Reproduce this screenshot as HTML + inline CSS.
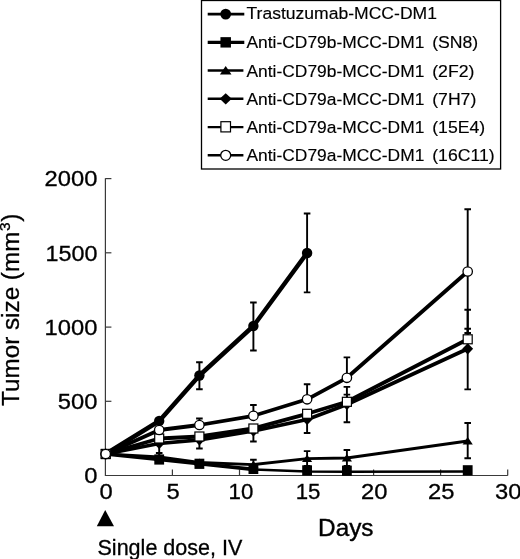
<!DOCTYPE html><html><head><meta charset="utf-8"><title>Tumor size</title>
<style>html,body{margin:0;padding:0;background:#fff;}svg{display:block;}text{font-family:"Liberation Sans", Arial, Helvetica, sans-serif;fill:#000;stroke:#000;stroke-width:0.3px;}</style></head><body>
<svg width="520" height="559" viewBox="0 0 520 559">
<rect width="520" height="559" fill="#fff"/>
<g stroke="#3a3a3a" stroke-width="1.2" fill="none">
<path d="M105.4 178.3 V475.5 H507.8"/>
<path d="M105.4 401.3 h6"/>
<path d="M105.4 327.1 h6"/>
<path d="M105.4 252.8 h6"/>
<path d="M105.4 178.6 h6"/>
<path d="M172.4 475.5 v-6"/>
<path d="M239.5 475.5 v-6"/>
<path d="M306.6 475.5 v-6"/>
<path d="M373.6 475.5 v-6"/>
<path d="M440.6 475.5 v-6"/>
<path d="M507.7 475.5 v-6"/>
</g>
<text transform="translate(97.4 483.2) scale(1.100 1)" font-size="21.6" text-anchor="end">0</text>
<text transform="translate(97.4 409.0) scale(1.100 1)" font-size="21.6" text-anchor="end">500</text>
<text transform="translate(97.4 334.8) scale(1.100 1)" font-size="21.6" text-anchor="end">1000</text>
<text transform="translate(97.4 260.5) scale(1.080 1)" font-size="21.6" text-anchor="end">1500</text>
<text transform="translate(97.4 186.3) scale(1.100 1)" font-size="21.6" text-anchor="end">2000</text>
<text transform="translate(106.0 499.3) scale(1.100 1)" font-size="21.6" text-anchor="middle">0</text>
<text transform="translate(173.0 499.3) scale(1.100 1)" font-size="21.6" text-anchor="middle">5</text>
<text transform="translate(240.9 499.3) scale(1.030 1)" font-size="21.6" text-anchor="middle">10</text>
<text transform="translate(308.0 499.3) scale(1.030 1)" font-size="21.6" text-anchor="middle">15</text>
<text transform="translate(374.2 499.3) scale(1.100 1)" font-size="21.6" text-anchor="middle">20</text>
<text transform="translate(441.2 499.3) scale(1.100 1)" font-size="21.6" text-anchor="middle">25</text>
<text transform="translate(508.3 499.3) scale(1.100 1)" font-size="21.6" text-anchor="middle">30</text>
<text transform="translate(18.8 405.9) rotate(-90)" font-size="24.25" text-anchor="start">Tumor size (mm<tspan font-size="15.5" dy="-9" dx="0.6">3</tspan><tspan dy="9" dx="0.8">)</tspan></text>
<text transform="translate(345.8 536.2) scale(1.035 1)" font-size="23.5" text-anchor="middle" style="stroke-width:0.4px">Days</text>
<text transform="translate(97.5 554.7) scale(1.012 1)" font-size="21.3" text-anchor="start">Single dose, IV</text>
<path d="M105.2 510 L114 526.2 L96.8 526.2 Z" fill="#000"/>
<path d="M253.4 459.8 V467.0 M250.1 459.8 h6.6 M250.1 467.0 h6.6" stroke="#000" stroke-width="1.9" fill="none"/>
<path d="M307.1 451.1 V466.0 M303.8 451.1 h6.6 M303.8 466.0 h6.6" stroke="#000" stroke-width="1.9" fill="none"/>
<path d="M346.9 450.0 V466.0 M343.6 450.0 h6.6 M343.6 466.0 h6.6" stroke="#000" stroke-width="1.9" fill="none"/>
<path d="M467.7 423.0 V458.3 M464.4 423.0 h6.6 M464.4 458.3 h6.6" stroke="#000" stroke-width="1.9" fill="none"/>
<path d="M159.2 443.0 V453.0 M155.9 443.0 h6.6 M155.9 453.0 h6.6" stroke="#000" stroke-width="1.9" fill="none"/>
<path d="M199.4 440.0 V448.5 M196.1 440.0 h6.6 M196.1 448.5 h6.6" stroke="#000" stroke-width="1.9" fill="none"/>
<path d="M307.1 419.0 V433.0 M303.8 419.0 h6.6 M303.8 433.0 h6.6" stroke="#000" stroke-width="1.9" fill="none"/>
<path d="M346.9 386.9 V422.3 M343.6 386.9 h6.6 M343.6 422.3 h6.6" stroke="#000" stroke-width="1.9" fill="none"/>
<path d="M467.7 309.7 V389.4 M464.4 309.7 h6.6 M464.4 389.4 h6.6" stroke="#000" stroke-width="1.9" fill="none"/>
<path d="M253.4 428.0 V441.5 M250.1 428.0 h6.6 M250.1 441.5 h6.6" stroke="#000" stroke-width="1.9" fill="none"/>
<path d="M346.9 394.6 V401.0 M343.6 394.6 h6.6 M343.6 401.0 h6.6" stroke="#000" stroke-width="1.9" fill="none"/>
<path d="M467.7 328.8 V339.5 M464.4 328.8 h6.6 M464.4 339.5 h6.6" stroke="#000" stroke-width="1.9" fill="none"/>
<path d="M199.4 418.5 V425.0 M196.1 418.5 h6.6 M196.1 425.0 h6.6" stroke="#000" stroke-width="1.9" fill="none"/>
<path d="M253.4 405.0 V415.0 M250.1 405.0 h6.6 M250.1 415.0 h6.6" stroke="#000" stroke-width="1.9" fill="none"/>
<path d="M307.1 384.2 V399.0 M303.8 384.2 h6.6 M303.8 399.0 h6.6" stroke="#000" stroke-width="1.9" fill="none"/>
<path d="M346.9 357.4 V377.0 M343.6 357.4 h6.6 M343.6 377.0 h6.6" stroke="#000" stroke-width="1.9" fill="none"/>
<path d="M467.7 209.3 V333.0 M464.4 209.3 h6.6 M464.4 333.0 h6.6" stroke="#000" stroke-width="1.9" fill="none"/>
<path d="M199.4 362.3 V389.3 M196.1 362.3 h6.6 M196.1 389.3 h6.6" stroke="#000" stroke-width="1.9" fill="none"/>
<path d="M253.4 302.5 V350.5 M250.1 302.5 h6.6 M250.1 350.5 h6.6" stroke="#000" stroke-width="1.9" fill="none"/>
<path d="M307.1 213.5 V292.4 M303.8 213.5 h6.6 M303.8 292.4 h6.6" stroke="#000" stroke-width="1.9" fill="none"/>
<polyline fill="none" stroke="#000" stroke-width="4.5" stroke-linejoin="round" points="105.7,454.0 159.2,421.0 199.4,375.5 253.4,326.0 307.1,253.0"/>
<polyline fill="none" stroke="#000" stroke-width="3.6" stroke-linejoin="round" points="105.7,454.0 159.2,459.5 199.4,463.8 253.4,469.4"/>
<polyline fill="none" stroke="#000" stroke-width="2.5" stroke-linejoin="round" points="253.4,469.4 307.1,471.5 346.9,471.8 467.7,471.4"/>
<polyline fill="none" stroke="#000" stroke-width="2.8" stroke-linejoin="round" points="105.7,454.0 159.2,457.0 199.4,462.5 253.4,464.6 307.1,458.6 346.9,458.0 467.7,441.0"/>
<polyline fill="none" stroke="#000" stroke-width="3.7" stroke-linejoin="round" points="105.7,454.0 159.2,443.5 199.4,439.8 253.4,431.0 307.1,419.5 346.9,404.5 467.7,348.8"/>
<polyline fill="none" stroke="#000" stroke-width="3.8" stroke-linejoin="round" points="105.7,454.0 159.2,438.5 199.4,436.5 253.4,428.5 307.1,413.8 346.9,401.8 467.7,339.3"/>
<polyline fill="none" stroke="#000" stroke-width="3.8" stroke-linejoin="round" points="105.7,454.0 159.2,430.0 199.4,425.0 253.4,415.8 307.1,399.3 346.9,377.8 467.7,271.5"/>
<circle cx="105.7" cy="454.0" r="5.2" fill="#000"/>
<circle cx="159.2" cy="421.0" r="5.2" fill="#000"/>
<circle cx="199.4" cy="375.5" r="5.2" fill="#000"/>
<circle cx="253.4" cy="326.0" r="5.2" fill="#000"/>
<circle cx="307.1" cy="253.0" r="5.2" fill="#000"/>
<rect x="100.80" y="448.90" width="9.8" height="10.2" fill="#000"/>
<rect x="154.30" y="454.40" width="9.8" height="10.2" fill="#000"/>
<rect x="194.50" y="458.70" width="9.8" height="10.2" fill="#000"/>
<rect x="248.50" y="463.80" width="9.8" height="10.2" fill="#000"/>
<rect x="302.20" y="465.30" width="9.8" height="10.2" fill="#000"/>
<rect x="342.00" y="465.60" width="9.8" height="10.2" fill="#000"/>
<rect x="462.80" y="465.20" width="9.8" height="10.2" fill="#000"/>
<path d="M105.7 450.1 l5.1 7.4 h-10.2 z" fill="#000"/>
<path d="M159.2 453.1 l5.1 7.4 h-10.2 z" fill="#000"/>
<path d="M199.4 458.6 l5.1 7.4 h-10.2 z" fill="#000"/>
<path d="M253.4 460.7 l5.1 7.4 h-10.2 z" fill="#000"/>
<path d="M307.1 454.7 l5.1 7.4 h-10.2 z" fill="#000"/>
<path d="M346.9 454.1 l5.1 7.4 h-10.2 z" fill="#000"/>
<path d="M467.7 437.1 l5.1 7.4 h-10.2 z" fill="#000"/>
<path d="M105.7 448.4 l5.4 5.6 l-5.4 5.6 l-5.4 -5.6 z" fill="#000"/>
<path d="M159.2 437.9 l5.4 5.6 l-5.4 5.6 l-5.4 -5.6 z" fill="#000"/>
<path d="M199.4 434.2 l5.4 5.6 l-5.4 5.6 l-5.4 -5.6 z" fill="#000"/>
<path d="M253.4 425.4 l5.4 5.6 l-5.4 5.6 l-5.4 -5.6 z" fill="#000"/>
<path d="M307.1 413.9 l5.4 5.6 l-5.4 5.6 l-5.4 -5.6 z" fill="#000"/>
<path d="M346.9 398.9 l5.4 5.6 l-5.4 5.6 l-5.4 -5.6 z" fill="#000"/>
<path d="M467.7 343.2 l5.4 5.6 l-5.4 5.6 l-5.4 -5.6 z" fill="#000"/>
<rect x="101.20" y="449.50" width="9.0" height="9.0" fill="#fff" stroke="#000" stroke-width="1.2"/>
<rect x="154.70" y="434.00" width="9.0" height="9.0" fill="#fff" stroke="#000" stroke-width="1.2"/>
<rect x="194.90" y="432.00" width="9.0" height="9.0" fill="#fff" stroke="#000" stroke-width="1.2"/>
<rect x="248.90" y="424.00" width="9.0" height="9.0" fill="#fff" stroke="#000" stroke-width="1.2"/>
<rect x="302.60" y="409.30" width="9.0" height="9.0" fill="#fff" stroke="#000" stroke-width="1.2"/>
<rect x="342.40" y="397.30" width="9.0" height="9.0" fill="#fff" stroke="#000" stroke-width="1.2"/>
<rect x="463.20" y="334.80" width="9.0" height="9.0" fill="#fff" stroke="#000" stroke-width="1.2"/>
<circle cx="105.7" cy="454.0" r="4.7" fill="#fff" stroke="#000" stroke-width="1.3"/>
<circle cx="159.2" cy="430.0" r="4.7" fill="#fff" stroke="#000" stroke-width="1.3"/>
<circle cx="199.4" cy="425.0" r="4.7" fill="#fff" stroke="#000" stroke-width="1.3"/>
<circle cx="253.4" cy="415.8" r="4.7" fill="#fff" stroke="#000" stroke-width="1.3"/>
<circle cx="307.1" cy="399.3" r="4.7" fill="#fff" stroke="#000" stroke-width="1.3"/>
<circle cx="346.9" cy="377.8" r="4.7" fill="#fff" stroke="#000" stroke-width="1.3"/>
<circle cx="467.7" cy="271.5" r="4.7" fill="#fff" stroke="#000" stroke-width="1.3"/>
<rect x="201.5" y="0.5" width="299.1" height="168.5" fill="#fff" stroke="#000" stroke-width="1.3"/>
<path d="M207.7 14.1 H244.3" stroke="#000" stroke-width="2.8"/>
<circle cx="225.7" cy="14.1" r="5.4" fill="#000"/>
<text transform="translate(246.5 19.4) scale(1.045 1)" font-size="16.8" text-anchor="start" style="stroke-width:0.15px">Trastuzumab-MCC-DM1</text>
<path d="M207.7 42.4 H244.3" stroke="#000" stroke-width="3.4"/>
<rect x="220.45" y="37.15" width="10.5" height="10.4" fill="#000"/>
<text transform="translate(246.5 48.4) scale(1.036 1)" font-size="16.8" text-anchor="start" style="stroke-width:0.15px">Anti-CD79b-MCC-DM1</text>
<text transform="translate(432.2 48.4) scale(1.083 1)" font-size="16.3" text-anchor="start" style="stroke-width:0.15px">(SN8)</text>
<path d="M207.7 70.6 H243.4" stroke="#000" stroke-width="2.5"/>
<path d="M225.7 66.0 l5.8 8.6 h-11.6 z" fill="#000"/>
<text transform="translate(246.5 76.6) scale(1.036 1)" font-size="16.8" text-anchor="start" style="stroke-width:0.15px">Anti-CD79b-MCC-DM1</text>
<text transform="translate(432.2 76.6) scale(1.083 1)" font-size="16.3" text-anchor="start" style="stroke-width:0.15px">(2F2)</text>
<path d="M207.7 98.8 H243.4" stroke="#000" stroke-width="2.5"/>
<path d="M225.7 93.2 l6.0 5.6 l-6.0 5.6 l-6.0 -5.6 z" fill="#000"/>
<text transform="translate(246.5 104.8) scale(1.036 1)" font-size="16.8" text-anchor="start" style="stroke-width:0.15px">Anti-CD79a-MCC-DM1</text>
<text transform="translate(432.2 104.8) scale(1.083 1)" font-size="16.3" text-anchor="start" style="stroke-width:0.15px">(7H7)</text>
<path d="M207.7 127.1 H243.4" stroke="#000" stroke-width="2.4"/>
<rect x="220.90" y="121.70" width="9.6" height="10.2" fill="#fff" stroke="#000" stroke-width="1.2"/>
<text transform="translate(246.5 133.1) scale(1.036 1)" font-size="16.8" text-anchor="start" style="stroke-width:0.15px">Anti-CD79a-MCC-DM1</text>
<text transform="translate(432.2 133.1) scale(1.083 1)" font-size="16.3" text-anchor="start" style="stroke-width:0.15px">(15E4)</text>
<path d="M207.7 155.3 H243.4" stroke="#000" stroke-width="2.5"/>
<circle cx="225.7" cy="155.3" r="5.0" fill="#fff" stroke="#000" stroke-width="1.3"/>
<text transform="translate(246.5 161.3) scale(1.036 1)" font-size="16.8" text-anchor="start" style="stroke-width:0.15px">Anti-CD79a-MCC-DM1</text>
<text transform="translate(432.2 161.3) scale(1.083 1)" font-size="16.3" text-anchor="start" style="stroke-width:0.15px">(16C11)</text>
</svg></body></html>
